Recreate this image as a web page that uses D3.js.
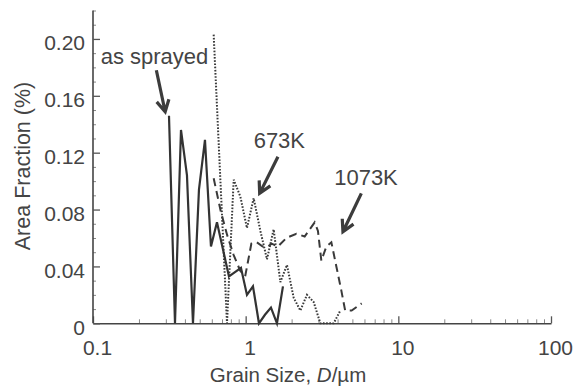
<!DOCTYPE html>
<html>
<head>
<meta charset="utf-8">
<script src="https://cdn.jsdelivr.net/npm/d3@7"></script>
<style>
  html, body { margin: 0; padding: 0; background: #fff; }
  svg { display: block; }
  text { font-family: "Liberation Sans", Arial, sans-serif; fill: #444; }
</style>
</head>
<body>
<svg id="chart" width="578" height="388"></svg>
<script>
// ---------- data ----------
const sprayedD = [0.3146, 0.3444, 0.3770, 0.4126, 0.4517, 0.4944, 0.5413, 0.5925, 0.6487, 0.7101,
                  0.7773, 0.8510, 0.9316, 1.0198, 1.1164, 1.2221, 1.3379, 1.4646, 1.6032, 1.7551];
const sprayedA = [0.146, 0, 0.136, 0.104, 0, 0.094, 0.129, 0.054, 0.071, 0.052,
                  0.033, 0.036, 0.039, 0.020, 0.026, 0, 0.006, 0.011, 0, 0.026];

const k673D = [0.6172, 0.7546, 0.8348, 0.9232, 1.0198, 1.1281, 1.2482, 1.3788, 1.5254, 1.6875,
               1.8644, 2.0624, 2.2814, 2.5201, 2.7882, 3.0844, 3.4075, 3.7700, 4.1707];
const k673A = [0.203, 0, 0.101, 0.089, 0.067, 0.088, 0.065, 0.045, 0.066, 0.029,
               0.041, 0.018, 0.009, 0.020, 0.015, 0, 0, 0, 0.009];

const k1073D = [0.6172, 0.6861, 0.7566, 0.8348, 0.9204, 0.9925, 1.0897, 1.1805, 1.2920, 1.3996,
                1.4798, 1.6275, 1.8476, 2.1478, 2.4344, 2.6255, 2.8307, 2.9751, 3.1310, 3.3768,
                3.6410, 3.9264, 4.2338, 4.4833, 4.9449, 5.7502];
const k1073A = [0.102, 0.079, 0.062, 0.048, 0.037, 0.033, 0.056, 0.057, 0.054, 0.054,
                0.056, 0.054, 0.060, 0.063, 0.061, 0.066, 0.071, 0.065, 0.044, 0.054,
                0.057, 0.040, 0.023, 0.009, 0.009, 0.014];

const xTickValues = [0.1, 1, 10, 100];
const xTickLabels = ["0.1", "1", "10", "100"];
const yTickValues = [0, 0.04, 0.08, 0.12, 0.16, 0.20];
const yTickLabels = ["0", "0.04", "0.08", "0.12", "0.16", "0.20"];

// annotations: label text, text anchor point, arrow tail, arrow tip (data coords)
const annotations = [
  { text: "as sprayed", tx: 0.1123, ty: 0.1823, from: [0.260, 0.178], to: [0.297, 0.1488] },
  { text: "673K",       tx: 1.128,  ty: 0.1232, from: [1.627, 0.1171], to: [1.235, 0.0914] },
  { text: "1073K",      tx: 3.80,   ty: 0.0972, from: [5.724, 0.0914], to: [4.337, 0.0644] }
];

// ---------- layout ----------
const svg = d3.select("#chart");
const x = d3.scaleLog().domain([0.1, 100]).range([93, 551]);
const y = d3.scaleLinear().domain([0, 0.22]).range([323.3, 10.5]);

// minor x ticks
const xMinor = [];
[0.1, 1, 10].forEach(dec => { for (let m = 2; m <= 9; m++) xMinor.push(dec * m); });
const yMinor = d3.range(0, 0.2201, 0.01).filter(v => !yTickValues.some(t => Math.abs(t - v) < 1e-6));

const gx = svg.append("g").attr("transform", `translate(0,${y(0)})`);
gx.call(d3.axisBottom(x).tickValues(xMinor).tickSize(-4).tickFormat(""))
  .call(g => g.select(".domain").remove())
  .call(g => g.selectAll("line").attr("stroke", "#888").attr("stroke-width", 1));
const gx2 = svg.append("g").attr("transform", `translate(0,${y(0)})`);
gx2.call(d3.axisBottom(x).tickValues(xTickValues).tickSize(-7).tickSizeOuter(0).tickPadding(16.5)
          .tickFormat((d, i) => xTickLabels[i]))
  .call(g => g.select(".domain").attr("stroke", "#444").attr("stroke-width", 1.6))
  .call(g => g.selectAll("line").attr("stroke", "#555").attr("stroke-width", 1.3))
  .call(g => g.selectAll("text").attr("font-size", 21).attr("dx", 4)
      .style("font-family", '"Liberation Sans", Arial, sans-serif').attr("fill", "#444"));

const gy = svg.append("g").attr("transform", `translate(${x(0.1)},0)`);
gy.call(d3.axisLeft(y).tickValues(yMinor).tickSize(-3).tickFormat(""))
  .call(g => g.select(".domain").remove())
  .call(g => g.selectAll("line").attr("stroke", "#888").attr("stroke-width", 1));
const gy2 = svg.append("g").attr("transform", `translate(${x(0.1)},0)`);
gy2.call(d3.axisLeft(y).tickValues(yTickValues).tickSize(-7).tickSizeOuter(0).tickPadding(8)
          .tickFormat((d, i) => yTickLabels[i]))
  .call(g => g.select(".domain").attr("stroke", "#444").attr("stroke-width", 1.6))
  .call(g => g.selectAll("line").attr("stroke", "#555").attr("stroke-width", 1.3))
  .call(g => g.selectAll("text").attr("font-size", 21).attr("y", 4)
      .style("font-family", '"Liberation Sans", Arial, sans-serif').attr("fill", "#444"));
// y axis domain up to top
gy2.select(".domain").attr("d", `M0,${y(0.22)}V${y(0)}`);

// ---------- series ----------
const line = d3.line().x(d => x(d[0])).y(d => y(d[1]));
const zip = (a, b) => a.map((v, i) => [v, b[i]]);

svg.append("path").datum(zip(k1073D, k1073A)).attr("d", line)
  .attr("fill", "none").attr("stroke", "#3a3a3a").attr("stroke-width", 2)
  .attr("stroke-dasharray", "8,5");
svg.append("path").datum(zip(k673D, k673A)).attr("d", line)
  .attr("fill", "none").attr("stroke", "#3a3a3a").attr("stroke-width", 2)
  .attr("stroke-dasharray", "1.6,1.6");
svg.append("path").datum(zip(sprayedD, sprayedA)).attr("d", line)
  .attr("fill", "none").attr("stroke", "#333").attr("stroke-width", 2.2)
  .attr("stroke-linejoin", "miter");

// ---------- annotations ----------
annotations.forEach(a => {
  svg.append("text").attr("x", x(a.tx)).attr("y", y(a.ty))
    .attr("font-size", 22).text(a.text);
  const x1 = x(a.from[0]), y1 = y(a.from[1]), x2 = x(a.to[0]), y2 = y(a.to[1]);
  const ang = Math.atan2(y2 - y1, x2 - x1);
  const L = 13, w = 0.5;
  const p1 = [x2 - L * Math.cos(ang - w), y2 - L * Math.sin(ang - w)];
  const p2 = [x2 - L * Math.cos(ang + w), y2 - L * Math.sin(ang + w)];
  svg.append("path")
    .attr("d", `M${x1},${y1}L${x2},${y2}M${p1[0]},${p1[1]}L${x2},${y2}L${p2[0]},${p2[1]}`)
    .attr("fill", "none").attr("stroke", "#3c3c3c").attr("stroke-width", 3.2)
    .attr("stroke-linecap", "butt").attr("stroke-linejoin", "miter");
});

// ---------- axis titles ----------
const xt = svg.append("text").attr("x", 288).attr("y", 382).attr("text-anchor", "middle")
  .attr("font-size", 20.5);
xt.append("tspan").text("Grain Size, ");
xt.append("tspan").attr("font-style", "italic").text("D");
xt.append("tspan").text("/µm");

svg.append("text").attr("transform", "translate(30,166) rotate(-90)")
  .attr("text-anchor", "middle").attr("font-size", 21.5).text("Area Fraction (%)");
</script>
</body>
</html>
